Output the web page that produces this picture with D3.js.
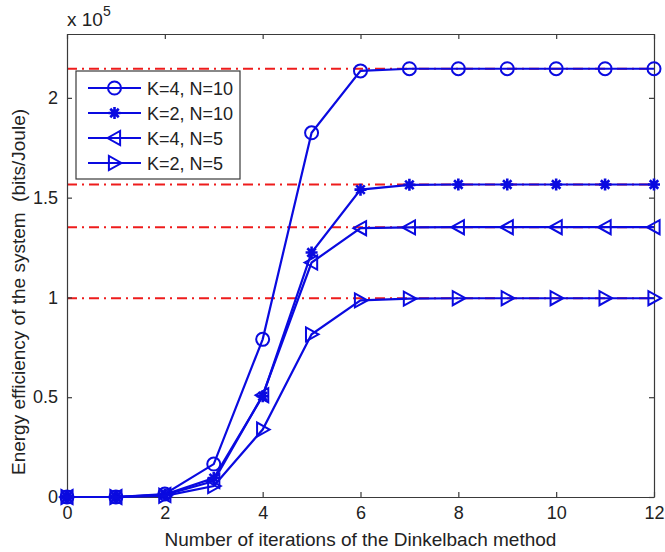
<!DOCTYPE html>
<html>
<head>
<meta charset="utf-8">
<script src="https://cdn.jsdelivr.net/npm/d3@7"></script>
<style>
  html, body { margin: 0; padding: 0; background: #fff; }
  svg { display: block; font-family: "Liberation Sans", Arial, sans-serif; }
</style>
</head>
<body>
<svg id="chart" width="665" height="552"></svg>
<script>
// Iteration index of the Dinkelbach method
const iterations = [0, 1, 2, 3, 4, 5, 6, 7, 8, 9, 10, 11, 12];

// Energy efficiency (x 10^5 bits/Joule) per iteration
const seriesK4N10 = [0, 0, 0.015, 0.165, 0.79, 1.825, 2.135, 2.146, 2.146, 2.146, 2.146, 2.146, 2.146];
const seriesK2N10 = [0, 0, 0.012, 0.095, 0.505, 1.225, 1.54, 1.564, 1.566, 1.566, 1.566, 1.566, 1.566];
const seriesK4N5  = [0, 0, 0.01, 0.08, 0.51, 1.175, 1.347, 1.351, 1.352, 1.352, 1.352, 1.352, 1.352];
const seriesK2N5  = [0, 0, 0.006, 0.055, 0.338, 0.815, 0.985, 0.994, 0.996, 0.996, 0.996, 0.996, 0.996];

// Optimal values (dash-dot reference lines)
const optimalValues = [2.146, 1.566, 1.352, 0.996];

const seriesNames = ["K=4, N=10", "K=2, N=10", "K=4, N=5", "K=2, N=5"];
const seriesMarkers = ["circle", "star", "triLeft", "triRight"];

const xTicks = [0, 2, 4, 6, 8, 10, 12];
const yTicks = [0, 0.5, 1, 1.5, 2];
const yTickLabels = ["0", "0.5", "1", "1.5", "2"];

const seriesData = [seriesK4N10, seriesK2N10, seriesK4N5, seriesK2N5];

const svg = d3.select("#chart");
const margin = { left: 67, right: 11, top: 34, bottom: 55 };
const W = 665, H = 552;
const plotW = W - margin.left - margin.right;
const plotH = H - margin.top - margin.bottom;

const x = d3.scaleLinear().domain([0, 12]).range([margin.left, margin.left + plotW]);
const y = d3.scaleLinear().domain([0, 2.32]).range([margin.top + plotH, margin.top]);

const axisColor = "#3a3a3a";
const blue = "#0a0ae0";
const red = "#ee1c1c";
const fontSize = 18;
const labelSize = 19;

// Plot background
svg.append("rect").attr("x", margin.left).attr("y", margin.top)
  .attr("width", plotW).attr("height", plotH).attr("fill", "#fff");

// Reference lines at the optimal values
svg.append("g").selectAll("line").data(optimalValues).join("line")
  .attr("x1", x(0)).attr("x2", x(12))
  .attr("y1", d => y(d)).attr("y2", d => y(d))
  .attr("stroke", red).attr("stroke-width", 2)
  .attr("stroke-dasharray", "10,5,2,5");

// Axes with inward ticks (box style on all four sides)
const tickLen = 5;
const xAxisB = d3.axisBottom(x).tickValues(xTicks).tickSizeInner(-tickLen).tickSizeOuter(0).tickPadding(9);
const xAxisT = d3.axisTop(x).tickValues(xTicks).tickSizeInner(-tickLen).tickSizeOuter(0).tickFormat("");
const yAxisL = d3.axisLeft(y).tickValues(yTicks).tickSizeInner(-tickLen).tickSizeOuter(0).tickPadding(9)
  .tickFormat((d, i) => yTickLabels[i]);
const yAxisR = d3.axisRight(y).tickValues(yTicks).tickSizeInner(-tickLen).tickSizeOuter(0).tickFormat("");

function styleAxis(g) {
  g.select(".domain").attr("stroke", axisColor).attr("stroke-width", 1.2);
  g.selectAll(".tick line").attr("stroke", axisColor).attr("stroke-width", 1.2);
  g.selectAll(".tick text").attr("fill", "#222").style("font-size", fontSize + "px")
    .style("font-family", "'Liberation Sans', Arial, sans-serif");
}

svg.append("g").attr("transform", `translate(0,${margin.top + plotH})`).call(xAxisB).call(styleAxis);
svg.append("g").attr("transform", `translate(0,${margin.top})`).call(xAxisT).call(styleAxis);
svg.append("g").attr("transform", `translate(${margin.left},0)`).call(yAxisL).call(styleAxis);
svg.append("g").attr("transform", `translate(${margin.left + plotW},0)`).call(yAxisR).call(styleAxis);

// Marker shapes
function markerPath(type, s) {
  switch (type) {
    case "circle":
      return d3.symbol(d3.symbolCircle, Math.PI * s * s)();
    case "triLeft":
      return `M${-s},0L${s * 0.8},${-s}L${s * 0.8},${s}Z`;
    case "triRight":
      return `M${s},0L${-s * 0.8},${-s}L${-s * 0.8},${s}Z`;
    case "star": {
      let p = "";
      for (let k = 0; k < 4; k++) {
        const a = k * Math.PI / 4;
        p += `M${-s * Math.cos(a)},${-s * Math.sin(a)}L${s * Math.cos(a)},${s * Math.sin(a)}`;
      }
      return p;
    }
  }
}

function drawMarker(g, type, cx, cy, s) {
  const p = g.append("path").attr("d", markerPath(type, s))
    .attr("transform", `translate(${cx},${cy})`)
    .attr("stroke", blue).attr("stroke-width", 2).attr("fill", "none");
  if (type === "star") p.attr("stroke-width", 2.6);
}

const markerSize = { circle: 6.5, star: 6, triLeft: 7, triRight: 7 };

const line = d3.line().x((d, i) => x(iterations[i])).y(d => y(d));

// Series curves and markers
seriesData.forEach((vals, si) => {
  const g = svg.append("g");
  g.append("path").datum(vals).attr("d", line)
    .attr("fill", "none").attr("stroke", blue).attr("stroke-width", 2.2);
  vals.forEach((v, i) => drawMarker(g, seriesMarkers[si], x(iterations[i]), y(v), markerSize[seriesMarkers[si]]));
});

// Axis labels
svg.append("text")
  .attr("x", margin.left + plotW / 2).attr("y", 546)
  .attr("text-anchor", "middle").attr("fill", "#222")
  .style("font-size", labelSize + "px")
  .text("Number of iterations of the Dinkelbach method");

svg.append("text")
  .attr("transform", `translate(25,292) rotate(-90)`)
  .attr("text-anchor", "middle").attr("fill", "#222")
  .style("font-size", labelSize + "px")
  .style("white-space", "pre")
  .text("Energy efficiency of the system  (bits/Joule)");

// Exponent multiplier
const mult = svg.append("text").attr("x", 67).attr("y", 26).attr("fill", "#222")
  .style("font-size", "19px");
mult.append("tspan").text("x 10");
mult.append("tspan").attr("dy", -10).style("font-size", "14px").text("5");

// Legend
const legend = svg.append("g");
legend.append("rect").attr("x", 76).attr("y", 71).attr("width", 164).attr("height", 108)
  .attr("fill", "#fff").attr("stroke", axisColor).attr("stroke-width", 1.2);
seriesNames.forEach((name, i) => {
  const ly = 88 + i * 25;
  legend.append("line").attr("x1", 88).attr("x2", 141).attr("y1", ly).attr("y2", ly)
    .attr("stroke", blue).attr("stroke-width", 2.2);
  drawMarker(legend, seriesMarkers[i], 114.5, ly, markerSize[seriesMarkers[i]]);
  legend.append("text").attr("x", 147).attr("y", ly + 6.5).attr("fill", "#222")
    .style("font-size", fontSize + "px").text(name);
});
</script>
</body>
</html>
